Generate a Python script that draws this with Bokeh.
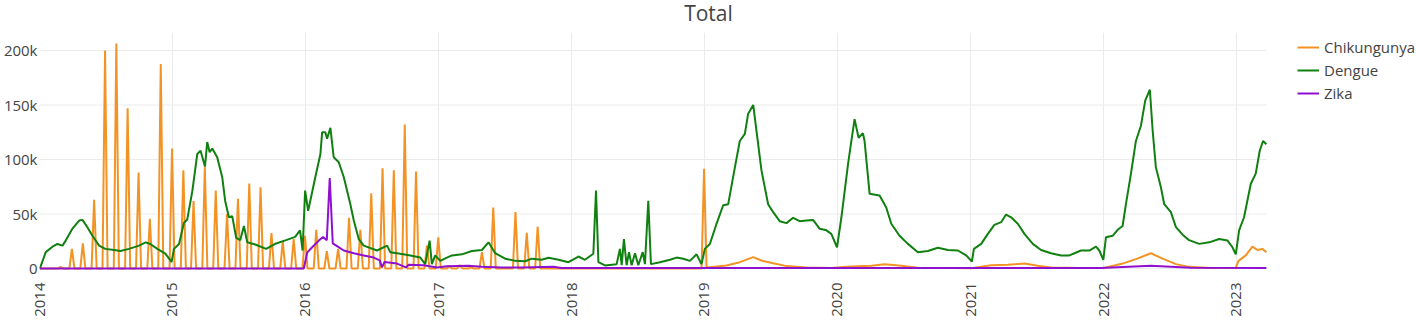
import math
import pandas as pd
from bokeh.plotting import figure
from bokeh.models import (Range1d, FixedTicker, CustomJSTickFormatter, Legend,
                          LegendItem, Label, ColumnDataSource)
from bokeh.embed import file_html
from bokeh.resources import INLINE

# ---------------- data ----------------
year_labels = ["2014", "2015", "2016", "2017", "2018", "2019", "2020", "2021", "2022", "2023"]
y_tick_values = [0, 50000, 100000, 150000, 200000]

# Chikungunya: monthly reports (one week per month), Jan 2014 .. Dec 2018
chik_months = [f"{y}-{m:02d}" for y in range(2014, 2019) for m in range(1, 13)]
chik_monthly = [
    0, 1500, 18000, 23000, 63000, 200000, 206500, 147000, 88000, 45600, 187700, 110000,
    90000, 62000, 93000, 71500, 50000, 64000, 78000, 74600, 32400, 25000, 27000, 30000,
    35500, 16000, 18000, 46500, 35500, 69000, 92000, 90000, 132000, 89000, 21000, 28700,
    2000, 3000, 1000, 15000, 56000, 0, 51700, 32700, 38500, 0, 0, 0,
    0, 0, 0, 0, 0, 0, 0, 0, 0, 0, 0, 91500,
]
# Chikungunya: weekly series from 2019 (decimal year, cases)
chik_week_year = [2019.015, 2019.165, 2019.265, 2019.366, 2019.428, 2019.516, 2019.616, 2019.766,
                  2019.953, 2020.066, 2020.141, 2020.254, 2020.354, 2020.479, 2020.604, 2020.854,
                  2021.005, 2021.155, 2021.280, 2021.405, 2021.505, 2021.605, 2021.830, 2021.995,
                  2022.018, 2022.143, 2022.243, 2022.356, 2022.444, 2022.544, 2022.643, 2022.806,
                  2022.994, 2023.014, 2023.069, 2023.119, 2023.157, 2023.194, 2023.224]
chik_week_cases = [1000, 2800, 5800, 10400, 7300, 4900, 2200, 1000,
                   500, 1500, 2000, 2500, 4000, 2500, 800, 500,
                   300, 3000, 3400, 4500, 2500, 1000, 500, 500,
                   1000, 4500, 8600, 14000, 9000, 4000, 1500, 500,
                   500, 7000, 12000, 20000, 17000, 18000, 15000]

dengue_year = [
    2014.003, 2014.047, 2014.098, 2014.135, 2014.173, 2014.197, 2014.248, 2014.298, 2014.323, 2014.360,
    2014.398, 2014.448, 2014.495, 2014.561, 2014.608, 2014.673, 2014.748, 2014.798, 2014.833, 2014.886,
    2014.946, 2014.993, 2015.011, 2015.049, 2015.086, 2015.111, 2015.149, 2015.186, 2015.211, 2015.244,
    2015.261, 2015.279, 2015.299, 2015.336, 2015.374, 2015.396, 2015.424, 2015.449, 2015.479, 2015.509,
    2015.537, 2015.562, 2015.622, 2015.704, 2015.779, 2015.854, 2015.922, 2015.959, 2015.978, 2015.997,
    2016.020, 2016.074, 2016.112, 2016.125, 2016.149, 2016.162, 2016.187, 2016.212, 2016.250, 2016.288,
    2016.337, 2016.363, 2016.400, 2016.438, 2016.538, 2016.613, 2016.637, 2016.712, 2016.788, 2016.863,
    2016.900, 2016.933, 2016.950, 2016.975, 2017.013, 2017.063, 2017.101, 2017.176, 2017.251, 2017.326,
    2017.376, 2017.426, 2017.501, 2017.576, 2017.651, 2017.701, 2017.776, 2017.827, 2017.902, 2017.977,
    2018.052, 2018.101, 2018.164, 2018.184, 2018.202, 2018.252, 2018.339, 2018.364, 2018.377, 2018.394,
    2018.414, 2018.432, 2018.452, 2018.477, 2018.502, 2018.535, 2018.552, 2018.577, 2018.597, 2018.664,
    2018.740, 2018.790, 2018.840, 2018.890, 2018.940, 2018.977, 2019.002, 2019.040, 2019.090, 2019.140,
    2019.178, 2019.215, 2019.265, 2019.303, 2019.328, 2019.366, 2019.390, 2019.428, 2019.478, 2019.516,
    2019.565, 2019.616, 2019.666, 2019.715, 2019.766, 2019.816, 2019.866, 2019.916, 2019.953, 2019.996,
    2020.029, 2020.079, 2020.104, 2020.128, 2020.158, 2020.191, 2020.203, 2020.241, 2020.316, 2020.366,
    2020.404, 2020.466, 2020.529, 2020.604, 2020.679, 2020.754, 2020.830, 2020.905, 2020.967, 2021.010,
    2021.025, 2021.080, 2021.130, 2021.179, 2021.230, 2021.267, 2021.305, 2021.355, 2021.405, 2021.468,
    2021.530, 2021.605, 2021.680, 2021.743, 2021.830, 2021.893, 2021.943, 2021.968, 2021.998, 2022.018,
    2022.068, 2022.106, 2022.143, 2022.168, 2022.206, 2022.243, 2022.281, 2022.313, 2022.348, 2022.369,
    2022.393, 2022.431, 2022.456, 2022.506, 2022.544, 2022.594, 2022.643, 2022.719, 2022.794, 2022.869,
    2022.932, 2022.969, 2022.994, 2023.019, 2023.056, 2023.107, 2023.144, 2023.174, 2023.199, 2023.224,
]
dengue_cases = [
    0, 15000, 20000, 22500, 21000, 25600, 36600, 44000, 44600, 37900,
    30000, 21000, 18000, 17000, 16000, 18000, 21000, 24000, 22500, 18000,
    13600, 6000, 18000, 22500, 42000, 45000, 71000, 105000, 108000, 93500,
    116000, 106700, 110000, 102000, 83700, 62000, 47000, 48000, 28000, 26000,
    39000, 24000, 22000, 18000, 23000, 26000, 29000, 35000, 16500, 71500,
    53000, 84000, 105000, 125000, 125000, 119000, 129000, 102000, 97500, 83700,
    59000, 44000, 27000, 21000, 16500, 21000, 15000, 13500, 12000, 10000,
    4000, 25600, 4000, 12000, 7000, 10000, 12000, 13000, 16000, 17000,
    24000, 14000, 9000, 7000, 6700, 9000, 8000, 9800, 8000, 5800,
    11000, 8000, 13500, 71500, 5800, 2800, 4000, 18000, 3000, 27000,
    3000, 15000, 3000, 14000, 3000, 15000, 4000, 62000, 4000, 5800,
    8000, 10000, 9000, 7000, 13000, 4000, 18000, 22500, 41000, 58000,
    59000, 84000, 117000, 123500, 142000, 150000, 126600, 90000, 59000, 51700,
    43400, 41600, 46500, 43400, 44000, 44600, 36400, 35000, 31800, 19500,
    47000, 96000, 117000, 137000, 120000, 124000, 117000, 68500, 67000, 56000,
    41000, 30000, 22600, 15000, 16000, 19000, 17000, 16500, 12000, 6400,
    18000, 22600, 31800, 40000, 42500, 49500, 47000, 41000, 31800, 22600,
    17000, 14000, 12000, 12000, 16500, 16500, 20000, 16500, 8000, 28700,
    30000, 35500, 39000, 59000, 87000, 117000, 131000, 154000, 164000, 126600,
    93000, 74500, 59000, 51700, 38000, 31000, 26000, 22600, 24000, 27000,
    25600, 19500, 13000, 35000, 47000, 77700, 87000, 108000, 117000, 114000,
]

zika_year = [2014.003, 2015.987, 2016.012, 2016.050, 2016.100, 2016.132, 2016.160, 2016.182,
             2016.205, 2016.237, 2016.288, 2016.363, 2016.438, 2016.513, 2016.558, 2016.575,
             2016.594, 2016.688, 2016.755, 2016.776, 2016.888, 2016.988, 2017.063, 2017.226,
             2017.326, 2017.476, 2017.626, 2017.864, 2017.926, 2018.977, 2019.728, 2021.980,
             2022.356, 2022.656, 2023.224]
zika_cases = [0, 0, 14500, 19500, 25600, 29000, 26000, 83000,
              23000, 20500, 16500, 14000, 12000, 10000, 7500, 1000,
              6000, 4500, 1000, 3500, 3000, 1000, 2000, 2500,
              1500, 1000, 1000, 1500, 500, 500, 500, 500,
              2500, 700, 500]

# ---------------- helpers ----------------
BASE = pd.Timestamp("2014-01-01")
DATA_END = pd.Timestamp("2023-03-25")


def to_dt(years):
    return [BASE + pd.Timedelta(days=(y - 2014.0) * 365.25) for y in years]


week = pd.Timedelta(days=7)
chik_x, chik_y = [BASE], [0]
for i, (m, v) in enumerate(zip(chik_months, chik_monthly)):
    d = pd.Period(m).end_time.normalize()
    chik_x += [d - week, d]
    chik_y += [0, v]
    if i < len(chik_months) - 1:
        chik_x.append(d + week)
        chik_y.append(0)
chik_x += to_dt(chik_week_year)
chik_y += chik_week_cases

FONT = "Open Sans"
TXT = "#444444"
GRID = "#ebebeb"

# layout: plot area spans 37..1266 px; the frame is extended to the window edge so
# that the legend (placed right of the plot area) is not clipped.
LEFT, PLOT_W, TOTAL_W = 37, 1229, 1416
x_end = BASE + (DATA_END - BASE) * ((TOTAL_W - LEFT) / PLOT_W)

p = figure(width=TOTAL_W, height=321, x_axis_type="datetime", output_backend="svg",
           toolbar_location=None, title=None,
           x_range=Range1d(BASE, x_end),
           y_range=Range1d(-1835, 216500),
           min_border_left=LEFT, min_border_right=0, min_border_top=32, min_border_bottom=51)
p.outline_line_color = None
p.background_fill_color = "white"
p.border_fill_color = "white"

# horizontal grid lines limited to the plot area
p.segment(x0=[BASE] * len(y_tick_values), x1=[DATA_END] * len(y_tick_values),
          y0=y_tick_values, y1=y_tick_values, line_color=GRID, line_width=1)

r_chik = p.line(x="x", y="y", source=ColumnDataSource(dict(x=chik_x, y=chik_y)),
                line_color="#F39325", line_width=2)
r_den = p.line(x="x", y="y", source=ColumnDataSource(dict(x=to_dt(dengue_year), y=dengue_cases)),
               line_color="#108010", line_width=2)
r_zika = p.line(x="x", y="y", source=ColumnDataSource(dict(x=to_dt(zika_year), y=zika_cases)),
                line_color="#9010D0", line_width=2)

tick_ms = [float(pd.Timestamp(f"{y}-01-01").value // 10**6) for y in year_labels]
xt = FixedTicker(ticks=tick_ms)
p.xaxis.ticker = xt
p.xgrid.ticker = xt
p.xaxis.formatter = CustomJSTickFormatter(
    args=dict(year_ticks=tick_ms, year_names=year_labels),
    code="const i = year_ticks.indexOf(tick); return i >= 0 ? year_names[i] : '';")
p.xaxis.major_label_orientation = math.pi / 2
p.xaxis.major_label_standoff = 12
p.xgrid.grid_line_color = GRID
p.xgrid.grid_line_width = 1

yt = FixedTicker(ticks=y_tick_values)
p.yaxis.ticker = yt
p.ygrid.grid_line_color = None
p.yaxis.formatter = CustomJSTickFormatter(code="return tick == 0 ? '0' : (tick/1000).toFixed(0) + 'k';")
p.yaxis.major_label_standoff = 2

for ax in (p.xaxis[0], p.yaxis[0]):
    ax.axis_line_color = None
    ax.major_tick_line_color = None
    ax.minor_tick_line_color = None
    ax.major_tick_out = 0
    ax.major_tick_in = 0
    ax.minor_tick_out = 0
    ax.minor_tick_in = 0
    ax.major_label_text_font = FONT
    ax.major_label_text_font_size = "15px"
    ax.major_label_text_color = TXT

title = Label(text="Total", x=669, y=20, x_units="screen", y_units="screen",
              text_align="center", text_baseline="alphabetic",
              text_font=FONT, text_font_size="21px", text_color=TXT)
p.add_layout(title, "above")

legend = Legend(items=[LegendItem(label="Chikungunya", renderers=[r_chik]),
                       LegendItem(label="Dengue", renderers=[r_den]),
                       LegendItem(label="Zika", renderers=[r_zika])],
                location=(1258, 167), padding=0, margin=0, spacing=3,
                glyph_width=22, glyph_height=20, label_height=20, label_standoff=5,
                label_text_font=FONT, label_text_font_size="15px", label_text_color=TXT,
                border_line_alpha=0, background_fill_alpha=0)
p.add_layout(legend)

open("out.html", "w").write(file_html(p, INLINE))
